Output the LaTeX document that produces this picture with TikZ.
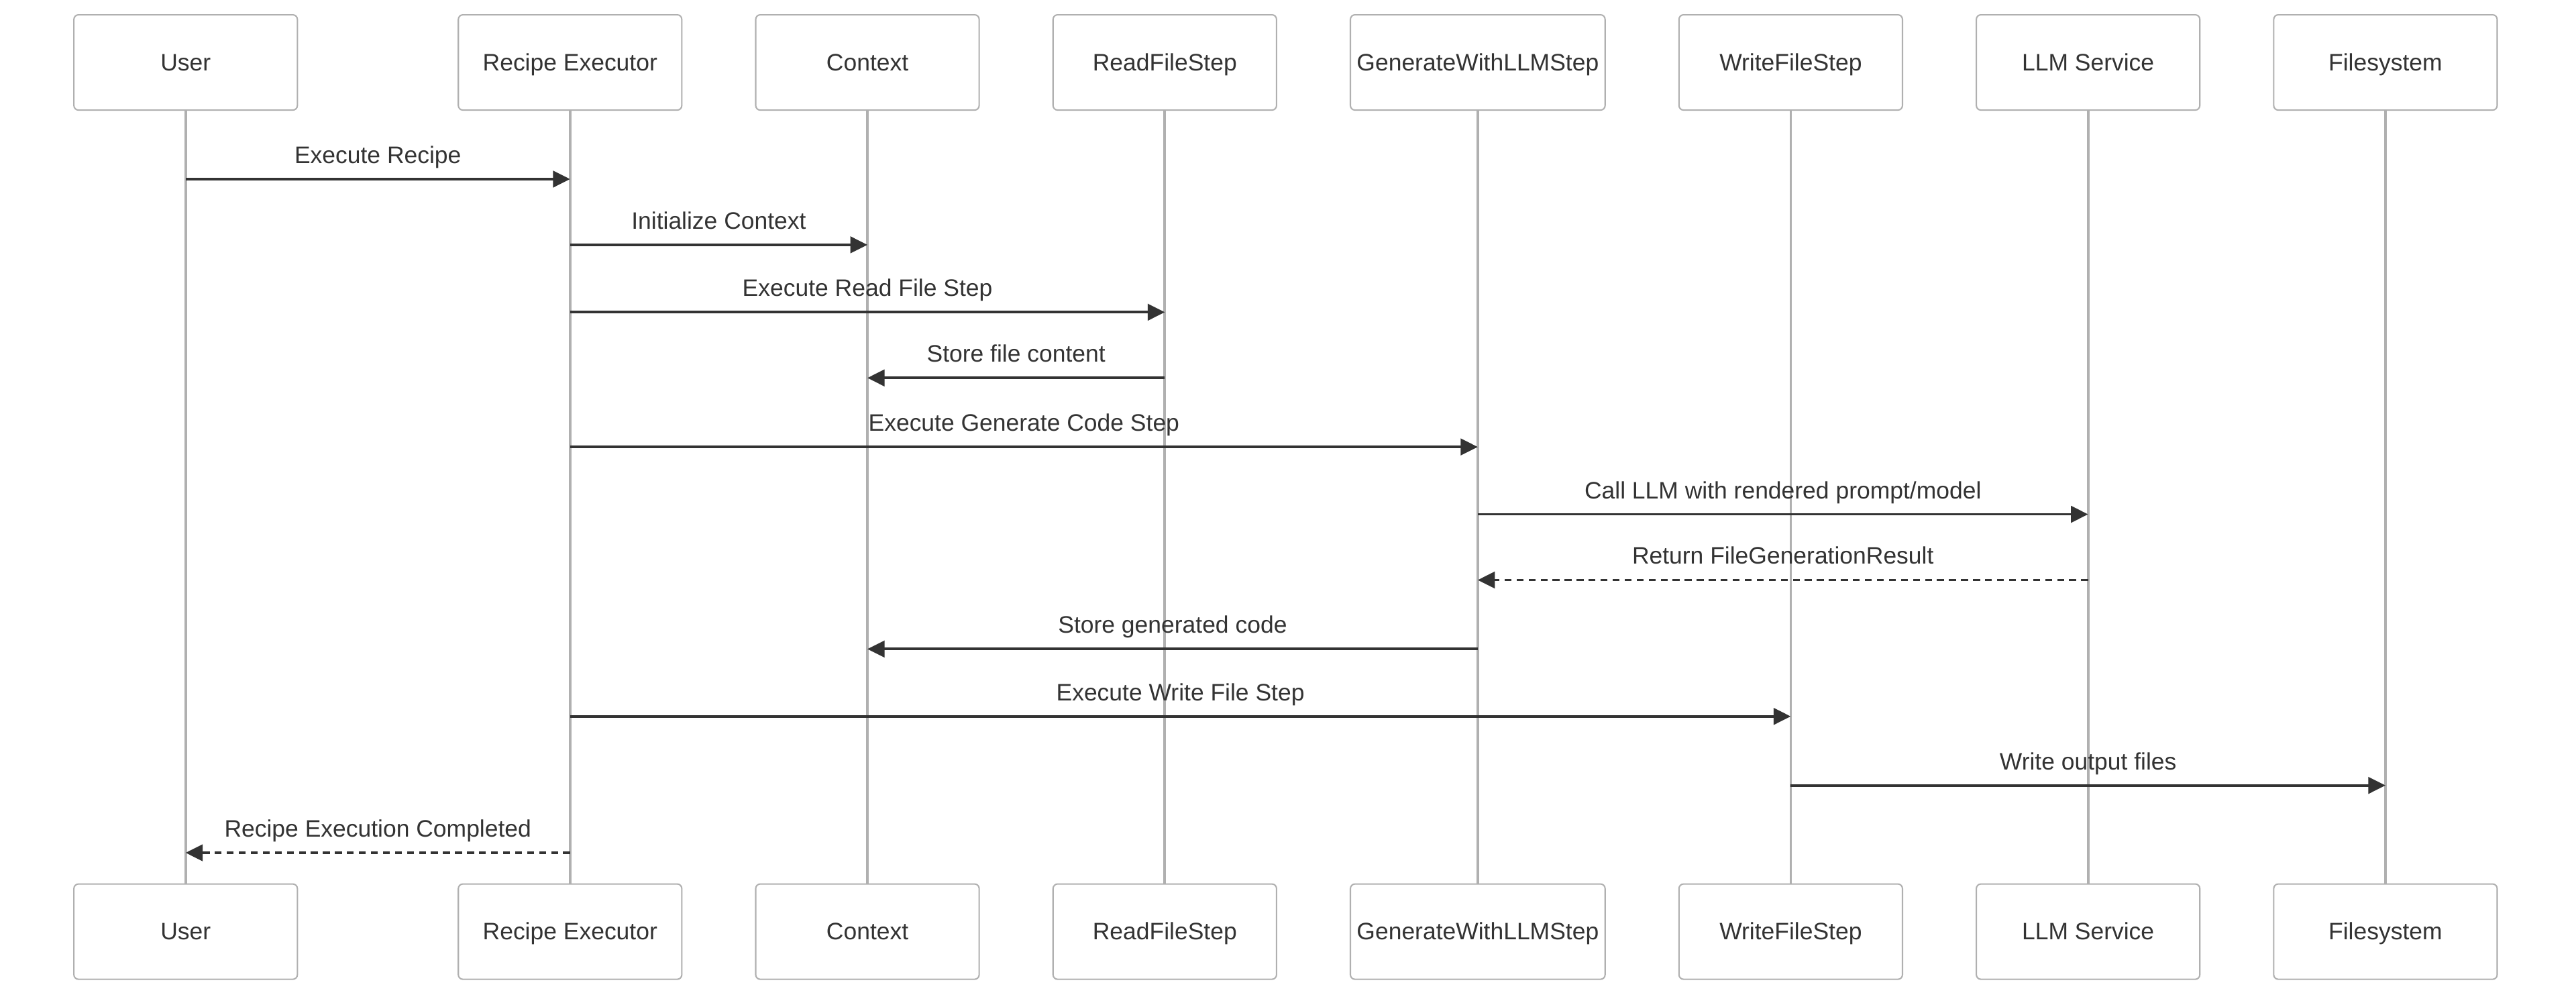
\documentclass[tikz,border=0pt]{standalone}
\usepackage{fontspec}
\setmainfont{Liberation Sans}
\usetikzlibrary{arrows.meta}
\definecolor{txt}{HTML}{333333}
\definecolor{edge}{HTML}{B0B0B0}

\begin{document}
\begin{tikzpicture}[
        x=0.025cm, y=-0.025cm,
        font=\fontsize{10.3}{12.4}\selectfont,
        actor/.style={rectangle, draw=edge, line width=0.6pt, rounded corners=2pt, fill=white, text=txt, minimum width=3.4cm, minimum height=1.45cm, inner sep=0pt, text height=0.716em, text depth=0pt},
        lifeline/.style={draw=edge, line width=1.1pt},
        msg/.style={draw=txt, line width=1.1pt, -{Triangle[length=0.26cm, width=0.25cm]}},
        reply/.style={msg, dash pattern=on 3pt off 2.2pt},
        lbl/.style={midway, anchor=base, yshift=0.24cm, text=txt, inner sep=0pt}
    ]
    \useasboundingbox (0,0) rectangle (1568,608);
    \foreach \id/\xpos/\boxw/\name in {user/113/3.4/User, exec/347/3.4/Recipe Executor, ctx/528/3.4/Context, read/709/3.4/ReadFileStep, gen/899.5/3.875/GenerateWithLLMStep, write/1090/3.4/WriteFileStep, llm/1271/3.4/LLM Service, fs/1452/3.4/Filesystem}{
        \node[actor, minimum width=\boxw cm] (\id) at (\xpos,38) {\name};
        \node[actor, minimum width=\boxw cm] (\id-b) at (\xpos,567) {\name};
        \draw[lifeline] (\id) -- (\id-b);
    }
    \draw[msg] (user |- 0,109) -- (exec |- 0,109) node[lbl] {Execute Recipe};
    \draw[msg] (exec |- 0,149) -- (ctx |- 0,149) node[lbl] {Initialize Context};
    \draw[msg] (exec |- 0,190) -- (read |- 0,190) node[lbl] {Execute Read File Step};
    \draw[msg] (read |- 0,230) -- (ctx |- 0,230) node[lbl] {Store file content};
    \draw[msg] (exec |- 0,272) -- (gen |- 0,272) node[lbl] {Execute Generate Code Step};
    \draw[msg] (gen |- 0,313) -- (llm |- 0,313) node[lbl] {Call LLM with rendered prompt/model};
    \draw[reply] (llm |- 0,353) -- (gen |- 0,353) node[lbl] {Return FileGenerationResult};
    \draw[msg] (gen |- 0,395) -- (ctx |- 0,395) node[lbl] {Store generated code};
    \draw[msg] (exec |- 0,436) -- (write |- 0,436) node[lbl] {Execute Write File Step};
    \draw[msg] (write |- 0,478) -- (fs |- 0,478) node[lbl] {Write output files};
    \draw[reply] (exec |- 0,519) -- (user |- 0,519) node[lbl] {Recipe Execution Completed};
\end{tikzpicture}
\end{document}
